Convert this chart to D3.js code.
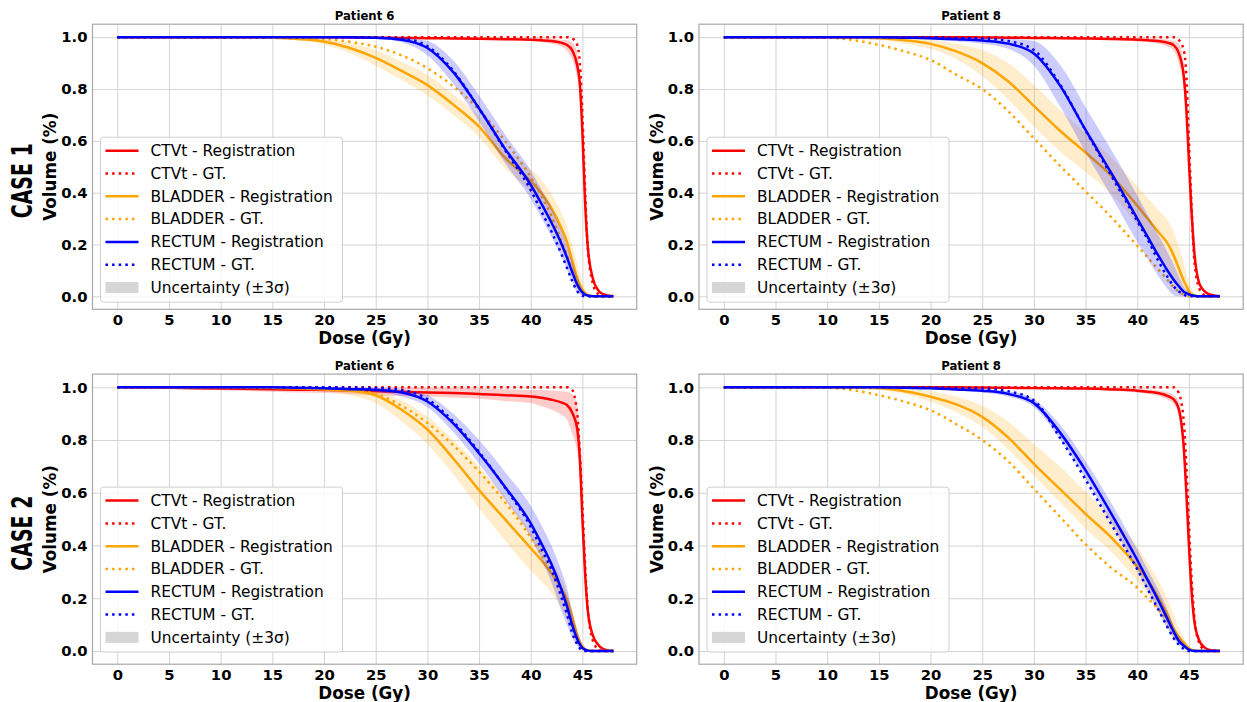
<!DOCTYPE html>
<html lang="en">
<head>
<meta charset="UTF-8">
<title>DVH comparison</title>
<script src="https://d3js.org/d3.v7.min.js"></script>
<style>
  body { margin: 0; background: #fff; }
  svg { font-family: "DejaVu Sans", sans-serif; }
  .grid line { stroke: #d4d4d4; stroke-width: 1; }
  .grid path { display: none; }
</style>
</head>
<body>
<script>
// dose grid (Gy) shared by every curve
const DOSE = [0,5,10,15, 17.5,20,22.5,25,27.5,30,32.5,35,37.5,40, 41,42,43,43.5,44,44.5,44.75,45,45.25,45.5, 46,46.5,47,48];

// CASE 1 - Patient 6
const c1p6_ctv_reg = [1,1,1,1, 1,1,0.999,0.998,0.997,0.996,0.995,0.994,0.992,0.99, 0.988,0.985,0.978,0.97,0.95,0.89,0.82,0.63,0.37,0.2, 0.07,0.025,0.008,0];
const c1p6_ctv_gt  = [1,1,1,1, 1,1,1,1,1,1,1,1,1,1, 1,1,1,1,0.995,0.97,0.9,0.7,0.42,0.2, 0.05,0.01,0,0];
const c1p6_ctv_lo  = [1,1,1,1, 1,1,0.998,0.997,0.995,0.994,0.993,0.991,0.988,0.985, 0.981,0.975,0.963,0.948,0.915,0.84,0.77,0.6,0.35,0.19, 0.065,0.022,0.007,0];
const c1p6_ctv_hi  = [1,1,1,1, 1,1,1,0.999,0.999,0.998,0.997,0.997,0.996,0.995, 0.995,0.994,0.99,0.988,0.98,0.94,0.87,0.66,0.39,0.21, 0.075,0.028,0.009,0];
const c1p6_bla_reg = [1,1,1,0.998, 0.993,0.983,0.958,0.92,0.87,0.815,0.74,0.655,0.535,0.445, 0.4,0.34,0.26,0.21,0.14,0.07,0.045,0.025,0.013,0.005, 0.001,0,0,0];
const c1p6_bla_gt  = [1,1,1,1, 0.998,0.993,0.982,0.963,0.93,0.88,0.81,0.72,0.6,0.46, 0.39,0.31,0.21,0.16,0.1,0.05,0.03,0.015,0.005,0, 0,0,0,0];
const c1p6_bla_lo  = [1,1,1,0.996, 0.988,0.971,0.938,0.89,0.835,0.775,0.7,0.615,0.495,0.4, 0.35,0.285,0.2,0.15,0.085,0.03,0.012,0.004,0.001,0, 0,0,0,0];
const c1p6_bla_hi  = [1,1,1,1, 0.998,0.995,0.978,0.95,0.905,0.855,0.78,0.695,0.575,0.49, 0.45,0.395,0.32,0.27,0.2,0.125,0.09,0.055,0.03,0.015, 0.005,0.001,0,0];
const c1p6_rec_reg = [1,1,1,1, 1,1,1,0.998,0.99,0.958,0.865,0.725,0.57,0.43, 0.36,0.285,0.2,0.15,0.095,0.045,0.028,0.015,0.007,0.003, 0,0,0,0];
const c1p6_rec_gt  = [1,1,1,1, 1,1,1,0.999,0.995,0.965,0.87,0.725,0.565,0.41, 0.33,0.25,0.16,0.11,0.06,0.02,0.01,0.003,0,0, 0,0,0,0];
const c1p6_rec_lo  = [1,1,1,1, 1,1,1,0.995,0.98,0.93,0.82,0.675,0.515,0.375, 0.305,0.23,0.15,0.105,0.055,0.015,0.008,0.003,0.001,0, 0,0,0,0];
const c1p6_rec_hi  = [1,1,1,1, 1,1,1,1,0.998,0.985,0.91,0.775,0.625,0.485, 0.415,0.34,0.25,0.195,0.135,0.075,0.048,0.027,0.013,0.006, 0.001,0,0,0];

// CASE 1 - Patient 8
const c1p8_ctv_reg = [1,1,1,1, 1,1,1,0.999,0.998,0.997,0.996,0.995,0.993,0.99, 0.988,0.985,0.978,0.97,0.94,0.85,0.72,0.52,0.33,0.18, 0.05,0.02,0.007,0];
const c1p8_ctv_gt  = [1,1,1,1, 1,1,1,1,1,1,1,1,1,1, 1,1,1,1,0.99,0.95,0.85,0.6,0.35,0.15, 0.03,0.005,0,0];
const c1p8_ctv_lo  = [1,1,1,1, 1,1,1,0.998,0.997,0.995,0.993,0.991,0.988,0.984, 0.98,0.975,0.962,0.95,0.9,0.8,0.68,0.49,0.31,0.17, 0.045,0.017,0.006,0];
const c1p8_ctv_hi  = [1,1,1,1, 1,1,1,1,1,0.999,0.999,0.998,0.997,0.996, 0.995,0.994,0.99,0.985,0.975,0.9,0.76,0.55,0.35,0.19, 0.055,0.022,0.008,0];
const c1p8_bla_reg = [1,1,1,0.996, 0.988,0.974,0.945,0.9,0.83,0.735,0.64,0.555,0.465,0.35, 0.3,0.25,0.2,0.16,0.11,0.06,0.04,0.02,0.009,0.003, 0,0,0,0];
const c1p8_bla_gt  = [1,1,0.998,0.97, 0.945,0.912,0.855,0.8,0.715,0.61,0.505,0.405,0.305,0.195, 0.15,0.105,0.06,0.037,0.018,0.006,0.002,0,0,0, 0,0,0,0];
const c1p8_bla_lo  = [1,1,1,0.99, 0.975,0.955,0.915,0.85,0.76,0.655,0.56,0.48,0.395,0.275, 0.22,0.165,0.11,0.075,0.04,0.015,0.007,0.003,0.001,0, 0,0,0,0];
const c1p8_bla_hi  = [1,1,1,1, 0.997,0.99,0.975,0.95,0.9,0.815,0.72,0.63,0.535,0.425, 0.38,0.335,0.29,0.25,0.195,0.13,0.09,0.055,0.03,0.013, 0.003,0,0,0];
const c1p8_rec_reg = [1,1,1,1, 0.998,0.996,0.992,0.987,0.975,0.937,0.815,0.642,0.475,0.3, 0.23,0.16,0.095,0.065,0.04,0.018,0.012,0.008,0.004,0.002, 0,0,0,0];
const c1p8_rec_gt  = [1,1,1,1, 1,0.999,0.997,0.995,0.985,0.95,0.82,0.64,0.465,0.29, 0.22,0.14,0.07,0.04,0.02,0.006,0.002,0,0,0, 0,0,0,0];
const c1p8_rec_lo  = [1,1,1,1, 0.995,0.99,0.984,0.975,0.955,0.89,0.735,0.555,0.385,0.21, 0.145,0.08,0.025,0.005,0,0,0,0,0,0, 0,0,0,0];
const c1p8_rec_hi  = [1,1,1,1, 1,1,0.999,0.998,0.995,0.985,0.895,0.73,0.565,0.39, 0.315,0.24,0.165,0.125,0.08,0.038,0.024,0.016,0.008,0.004, 0,0,0,0];

// CASE 2 - Patient 6
const c2p6_ctv_reg = [1,0.998,0.995,0.993, 0.991,0.99,0.988,0.985,0.983,0.98,0.978,0.975,0.97,0.965, 0.96,0.953,0.942,0.933,0.905,0.84,0.73,0.5,0.3,0.16, 0.06,0.025,0.008,0];
const c2p6_ctv_gt  = [1,1,1,1, 1,1,1,1,1,1,1,1,1,1, 1,1,1,1,0.99,0.9,0.75,0.55,0.33,0.17, 0.04,0.008,0,0];
const c2p6_ctv_lo  = [1,0.995,0.989,0.983, 0.98,0.978,0.975,0.97,0.967,0.965,0.961,0.957,0.948,0.94, 0.928,0.915,0.895,0.878,0.825,0.75,0.65,0.44,0.26,0.135, 0.05,0.02,0.005,0];
const c2p6_ctv_hi  = [1,1,1,1, 1,1,0.999,0.998,0.998,0.997,0.996,0.995,0.993,0.99, 0.99,0.988,0.985,0.983,0.975,0.93,0.81,0.56,0.34,0.185, 0.07,0.03,0.01,0];
const c2p6_bla_reg = [1,1,1,0.998, 0.996,0.992,0.987,0.97,0.915,0.84,0.73,0.61,0.5,0.39, 0.345,0.295,0.235,0.195,0.13,0.06,0.035,0.018,0.008,0.003, 0,0,0,0];
const c2p6_bla_gt  = [1,1,1,1, 0.998,0.995,0.99,0.975,0.93,0.865,0.78,0.68,0.565,0.43, 0.37,0.3,0.21,0.16,0.1,0.035,0.015,0.005,0,0, 0,0,0,0];
const c2p6_bla_lo  = [1,1,0.998,0.995, 0.99,0.985,0.97,0.94,0.87,0.785,0.67,0.54,0.42,0.305, 0.265,0.22,0.16,0.12,0.072,0.028,0.012,0.005,0.001,0, 0,0,0,0];
const c2p6_bla_hi  = [1,1,1,1, 1,0.998,0.995,0.985,0.95,0.89,0.8,0.7,0.585,0.455, 0.4,0.34,0.27,0.225,0.16,0.085,0.05,0.025,0.01,0.004, 0,0,0,0];
const c2p6_rec_reg = [1,1,1,1, 0.998,0.996,0.993,0.99,0.98,0.946,0.863,0.75,0.623,0.484, 0.41,0.33,0.23,0.17,0.1,0.045,0.025,0.012,0.005,0.002, 0,0,0,0];
const c2p6_rec_gt  = [1,1,1,1, 1,1,0.999,0.997,0.99,0.955,0.87,0.755,0.62,0.47, 0.39,0.31,0.2,0.14,0.07,0.025,0.01,0.003,0,0, 0,0,0,0];
const c2p6_rec_lo  = [1,1,1,1, 0.996,0.993,0.988,0.982,0.965,0.925,0.83,0.71,0.575,0.43, 0.35,0.26,0.15,0.1,0.05,0.02,0.01,0.003,0,0, 0,0,0,0];
const c2p6_rec_hi  = [1,1,1,1, 1,0.999,0.998,0.997,0.99,0.97,0.9,0.8,0.68,0.55, 0.48,0.4,0.3,0.24,0.15,0.075,0.045,0.02,0.008,0.002, 0,0,0,0];

// CASE 2 - Patient 8
const c2p8_ctv_reg = [1,1,1,1, 1,1,1,0.999,0.998,0.997,0.996,0.995,0.992,0.987, 0.983,0.978,0.966,0.955,0.92,0.77,0.6,0.4,0.23,0.12, 0.04,0.014,0.004,0];
const c2p8_ctv_gt  = [1,1,1,1, 1,1,1,1,1,1,1,1,1,1, 1,1,1,1,0.98,0.87,0.7,0.48,0.28,0.14, 0.03,0.005,0,0];
const c2p8_ctv_lo  = [1,1,1,1, 1,1,1,0.998,0.996,0.995,0.993,0.991,0.987,0.98, 0.975,0.968,0.952,0.938,0.89,0.73,0.56,0.37,0.21,0.11, 0.035,0.012,0.003,0];
const c2p8_ctv_hi  = [1,1,1,1, 1,1,1,1,1,0.999,0.999,0.998,0.996,0.994, 0.992,0.988,0.98,0.972,0.95,0.81,0.64,0.43,0.25,0.13, 0.045,0.016,0.005,0];
const c2p8_bla_reg = [1,1,1,0.996, 0.985,0.964,0.935,0.888,0.81,0.71,0.615,0.52,0.43,0.32, 0.27,0.205,0.13,0.085,0.055,0.032,0.02,0.01,0.005,0.002, 0,0,0,0];
const c2p8_bla_gt  = [1,1,0.998,0.97, 0.945,0.913,0.86,0.8,0.72,0.615,0.51,0.405,0.315,0.24, 0.2,0.16,0.11,0.07,0.04,0.022,0.012,0.006,0.002,0, 0,0,0,0];
const c2p8_bla_lo  = [1,1,1,0.99, 0.975,0.945,0.905,0.85,0.765,0.665,0.565,0.465,0.375,0.265, 0.215,0.15,0.085,0.05,0.028,0.014,0.008,0.003,0.001,0, 0,0,0,0];
const c2p8_bla_hi  = [1,1,1,1, 0.995,0.985,0.965,0.93,0.87,0.785,0.7,0.605,0.51,0.395, 0.335,0.27,0.19,0.14,0.09,0.05,0.032,0.017,0.008,0.003, 0,0,0,0];
const c2p8_rec_reg = [1,1,1,1, 0.998,0.996,0.992,0.987,0.975,0.94,0.83,0.685,0.52,0.345, 0.27,0.195,0.115,0.075,0.04,0.02,0.012,0.005,0.002,0, 0,0,0,0];
const c2p8_rec_gt  = [1,1,1,1, 1,0.999,0.997,0.995,0.985,0.95,0.81,0.65,0.48,0.31, 0.235,0.16,0.085,0.05,0.025,0.008,0.003,0,0,0, 0,0,0,0];
const c2p8_rec_lo  = [1,1,1,1, 0.996,0.993,0.988,0.98,0.965,0.925,0.805,0.655,0.485,0.305, 0.23,0.155,0.08,0.05,0.022,0.01,0.005,0.002,0,0, 0,0,0,0];
const c2p8_rec_hi  = [1,1,1,1, 1,0.999,0.996,0.993,0.985,0.955,0.86,0.72,0.56,0.385, 0.31,0.235,0.15,0.1,0.06,0.03,0.018,0.008,0.003,0, 0,0,0,0];

const X_TICKS = [0,5,10,15,20,25,30,35,40,45];
const Y_TICKS = [0,0.2,0.4,0.6,0.8,1.0];
const ORGANS = ["CTVt", "BLADDER", "RECTUM"];
const COLORS = { CTVt: "#ff0000", BLADDER: "#ffa500", RECTUM: "#0000ff" };

const panels = [
  { title: "Patient 6", caseLabel: "CASE 1", left: 92.5, top: 24.2, bottom: 309.3,
    data: { CTVt: [c1p6_ctv_reg, c1p6_ctv_gt, c1p6_ctv_lo, c1p6_ctv_hi],
            BLADDER: [c1p6_bla_reg, c1p6_bla_gt, c1p6_bla_lo, c1p6_bla_hi],
            RECTUM: [c1p6_rec_reg, c1p6_rec_gt, c1p6_rec_lo, c1p6_rec_hi] } },
  { title: "Patient 8", caseLabel: null, left: 699, top: 24.2, bottom: 309.3,
    data: { CTVt: [c1p8_ctv_reg, c1p8_ctv_gt, c1p8_ctv_lo, c1p8_ctv_hi],
            BLADDER: [c1p8_bla_reg, c1p8_bla_gt, c1p8_bla_lo, c1p8_bla_hi],
            RECTUM: [c1p8_rec_reg, c1p8_rec_gt, c1p8_rec_lo, c1p8_rec_hi] } },
  { title: "Patient 6", caseLabel: "CASE 2", left: 92.5, top: 374.1, bottom: 664.2,
    data: { CTVt: [c2p6_ctv_reg, c2p6_ctv_gt, c2p6_ctv_lo, c2p6_ctv_hi],
            BLADDER: [c2p6_bla_reg, c2p6_bla_gt, c2p6_bla_lo, c2p6_bla_hi],
            RECTUM: [c2p6_rec_reg, c2p6_rec_gt, c2p6_rec_lo, c2p6_rec_hi] } },
  { title: "Patient 8", caseLabel: null, left: 699, top: 374.1, bottom: 664.2,
    data: { CTVt: [c2p8_ctv_reg, c2p8_ctv_gt, c2p8_ctv_lo, c2p8_ctv_hi],
            BLADDER: [c2p8_bla_reg, c2p8_bla_gt, c2p8_bla_lo, c2p8_bla_hi],
            RECTUM: [c2p8_rec_reg, c2p8_rec_gt, c2p8_rec_lo, c2p8_rec_hi] } }
];

const PANEL_W = 544.2;

const svg = d3.select("body").append("svg")
  .attr("width", 1247).attr("height", 702);
svg.append("rect").attr("width", 1247).attr("height", 702).attr("fill", "#fff");

function styleTicks(axisG) {
  axisG.select(".domain").remove();
  axisG.selectAll("text")
    .style("font-family", "'DejaVu Sans', sans-serif")
    .style("font-weight", "bold")
    .style("font-size", "14.8px")
    .style("fill", "#000");
}

panels.forEach((p, pi) => {
  const x = d3.scaleLinear().domain([-2.4, 50.25]).range([p.left, p.left + PANEL_W]);
  const y = d3.scaleLinear().domain([-0.05, 1.05]).range([p.bottom, p.top]);
  const h = p.bottom - p.top;
  const g = svg.append("g");

  // grid
  g.append("g").attr("class", "grid")
    .attr("transform", `translate(0,${p.bottom})`)
    .call(d3.axisBottom(x).tickValues(X_TICKS).tickSize(-h).tickFormat(""));
  g.append("g").attr("class", "grid")
    .attr("transform", `translate(${p.left},0)`)
    .call(d3.axisLeft(y).tickValues(Y_TICKS).tickSize(-PANEL_W).tickFormat(""));

  g.append("clipPath").attr("id", "clip" + pi)
    .append("rect").attr("x", p.left).attr("y", p.top).attr("width", PANEL_W).attr("height", h);
  const plot = g.append("g").attr("clip-path", `url(#clip${pi})`);

  ORGANS.forEach(org => {
    const [reg, gt, lo, hi] = p.data[org];
    const c = COLORS[org];
    const area = d3.area().curve(d3.curveMonotoneX)
      .x((d, i) => x(DOSE[i])).y0((d, i) => y(lo[i])).y1((d, i) => y(hi[i]));
    const line = d3.line().curve(d3.curveMonotoneX)
      .x((d, i) => x(DOSE[i])).y(d => y(d));
    plot.append("path").datum(DOSE).attr("d", area).attr("fill", c).attr("fill-opacity", 0.2);
    plot.append("path").datum(reg).attr("d", line)
      .attr("fill", "none").attr("stroke", c).attr("stroke-width", 2.5);
    plot.append("path").datum(gt).attr("d", line)
      .attr("fill", "none").attr("stroke", c).attr("stroke-width", 2.5)
      .attr("stroke-dasharray", "2.5,4.1");
  });

  // spines
  g.append("rect").attr("x", p.left).attr("y", p.top).attr("width", PANEL_W).attr("height", h)
    .attr("fill", "none").attr("stroke", "#a8a8a8").attr("stroke-width", 1.2);

  // tick labels
  const xa = g.append("g").attr("transform", `translate(0,${p.bottom})`)
    .call(d3.axisBottom(x).tickValues(X_TICKS).tickSize(0).tickPadding(5));
  styleTicks(xa);
  const ya = g.append("g").attr("transform", `translate(${p.left},0)`)
    .call(d3.axisLeft(y).tickValues(Y_TICKS).tickSize(0).tickPadding(5).tickFormat(d3.format(".1f")));
  styleTicks(ya);

  const cx = p.left + PANEL_W / 2;
  g.append("text").attr("x", cx).attr("y", p.top - 8).attr("dy", "0.35em")
    .attr("text-anchor", "middle").attr("font-weight", "bold").attr("font-size", "11.7px")
    .text(p.title);
  g.append("text").attr("x", cx).attr("y", p.bottom + 29).attr("dy", "0.35em")
    .attr("text-anchor", "middle").attr("font-weight", "bold").attr("font-size", "16.8px")
    .text("Dose (Gy)");
  const cy = (p.top + p.bottom) / 2;
  g.append("text").attr("transform", `translate(${p.left - 42},${cy}) rotate(-90)`)
    .attr("dy", "0.35em").attr("text-anchor", "middle")
    .attr("font-weight", "bold").attr("font-size", "16.8px")
    .text("Volume (%)");
  if (p.caseLabel) {
    g.append("text").attr("transform", `translate(22,${cy + 14}) rotate(-90)`)
      .attr("dy", "0.35em").attr("text-anchor", "middle")
      .attr("font-weight", "bold").attr("font-size", "28px")
      .attr("textLength", 75).attr("lengthAdjust", "spacingAndGlyphs")
      .text(p.caseLabel);
  }

  // legend
  const lx = p.left + 8, ly = p.top + 113;
  const leg = g.append("g").attr("transform", `translate(${lx},${ly})`);
  leg.append("rect").attr("width", 242).attr("height", 165).attr("rx", 3)
    .attr("fill", "#fff").attr("fill-opacity", 0.8).attr("stroke", "#d0d0d0");
  const items = [];
  ORGANS.forEach(org => {
    items.push({ label: org + " - Registration", color: COLORS[org], dash: null });
    items.push({ label: org + " - GT.", color: COLORS[org], dash: "2.5,4.1" });
  });
  items.push({ label: "Uncertainty (\u00B13\u03C3)", patch: true });
  items.forEach((it, i) => {
    const ry = 13.5 + i * 22.8;
    if (it.patch) {
      leg.append("rect").attr("x", 5).attr("y", ry - 5.5).attr("width", 33).attr("height", 11)
        .attr("fill", "#d6d6d6");
    } else {
      leg.append("line").attr("x1", 5).attr("x2", 38).attr("y1", ry).attr("y2", ry)
        .attr("stroke", it.color).attr("stroke-width", 2.5)
        .attr("stroke-dasharray", it.dash);
    }
    leg.append("text").attr("x", 50).attr("y", ry).attr("dy", "0.35em")
      .attr("font-size", "15.4px").text(it.label);
  });
});
</script>
</body>
</html>
